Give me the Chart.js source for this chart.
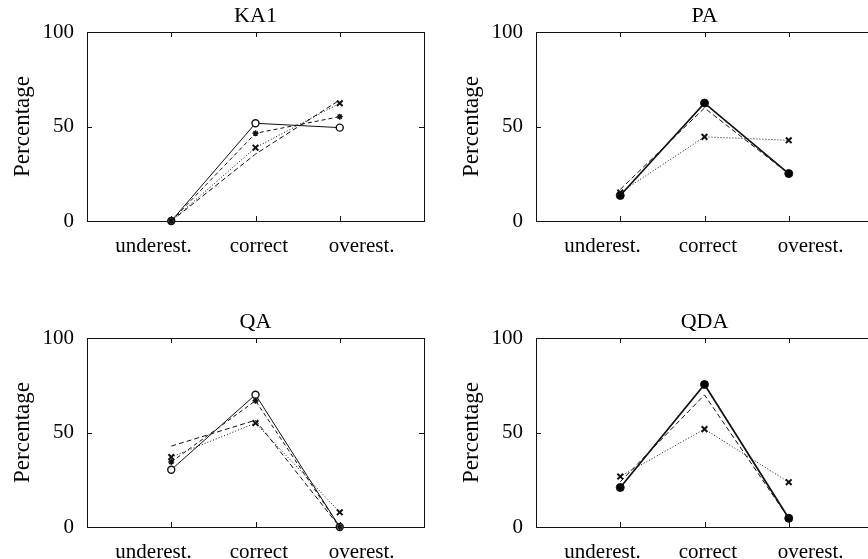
<!DOCTYPE html>
<html>
<head>
<meta charset="utf-8">
<script src="https://cdn.jsdelivr.net/npm/chart.js@4"></script>
<style>
  html, body { margin: 0; padding: 0; background: #fff; overflow: hidden; width: 868px; height: 559px; }
  canvas { position: absolute; }
</style>
</head>
<body>
<canvas id="ka1" width="434" height="280" style="left:0;top:0"></canvas>
<canvas id="pa" width="434" height="280" style="left:449px;top:0"></canvas>
<canvas id="qa" width="434" height="280" style="left:0;top:306px"></canvas>
<canvas id="qda" width="434" height="280" style="left:449px;top:306px"></canvas>
<script>
const categories = ['underest.', 'correct', 'overest.'];
const yTicks = [0, 50, 100];
// where the x labels sit on the 0..4 axis (categories are at 1, 2, 3)
const labelPos = [0.79, 2.04, 3.26];

const ka1Circle = [0, 51.7, 49.4];
const ka1Star = [0, 46.4, 55.2];
const ka1Cross = [0, 38.8, 62.3];
const ka1Dash = [0, 35.4, 64];

const paSolid = [13.5, 62.4, 25.1];
const paDash = [16.7, 59.8, 25];
const paCross = [15, 44.5, 42.7];

const qaCircle = [30.3, 70, 0];
const qaStar = [34.4, 66.8, 0];
const qaCross = [37, 55, 7.8];
const qaDash = [42.8, 56.5, 0];

const qdaSolid = [20.9, 75.4, 4.6];
const qdaDash = [23.9, 69.9, 4.6];
const qdaCross = [26.7, 51.8, 23.7];

const serif = '"Liberation Serif", "DejaVu Serif", serif';

const styles = {
  circle: { borderWidth: 1, borderDash: [], pointStyle: 'circle', pointRadius: 3.5, pointBorderWidth: 1.4, pointBackgroundColor: '#fff' },
  star: { borderWidth: 1, borderDash: [4, 3], pointStyle: 'star', pointRadius: 3, pointBorderWidth: 1.4, pointBackgroundColor: '#000' },
  cross: { borderWidth: 1, borderDash: [1, 2], pointStyle: 'crossRot', pointRadius: 4, pointBorderWidth: 2, pointBackgroundColor: '#000' },
  dash: { borderWidth: 1, borderDash: [5, 3], pointRadius: 0 },
  dot: { borderWidth: 1.7, borderDash: [], pointStyle: 'circle', pointRadius: 4, pointBorderWidth: 1, pointBackgroundColor: '#000' }
};

const frame = {
  id: 'frame',
  beforeDatasetsDraw(chart) {
    const { ctx, chartArea: a, scales: { x, y } } = chart;
    ctx.save();
    ctx.strokeStyle = '#111';
    ctx.lineWidth = 1;
    ctx.strokeRect(a.left + 0.5, a.top + 0.5, a.right - a.left, a.bottom - a.top);
    ctx.beginPath();
    categories.forEach((c, i) => {
      const px = Math.round(x.getPixelForValue(i + 1)) + 0.5;
      ctx.moveTo(px, a.top); ctx.lineTo(px, a.top + 5);
      ctx.moveTo(px, a.bottom); ctx.lineTo(px, a.bottom - 5);
    });
    yTicks.forEach(v => {
      const py = Math.round(y.getPixelForValue(v)) + 0.5;
      ctx.moveTo(a.left, py); ctx.lineTo(a.left + 5, py);
      ctx.moveTo(a.right, py); ctx.lineTo(a.right - 5, py);
    });
    ctx.stroke();
    ctx.restore();
  }
};

function makeChart(id, title, series) {
  new Chart(document.getElementById(id), {
    type: 'line',
    data: {
      datasets: series.map(([vals, kind]) => Object.assign({
        data: vals.map((v, i) => ({ x: i + 1, y: v })),
        borderColor: '#111',
        pointBorderColor: '#111',
        tension: 0,
        clip: false
      }, styles[kind]))
    },
    options: {
      responsive: false,
      animation: false,
      devicePixelRatio: 1,
      layout: { padding: { right: 10 } },
      plugins: {
        legend: { display: false },
        tooltip: { enabled: false },
        title: {
          display: true, text: title, color: '#000', fullSize: false,
          font: { family: serif, size: 22, weight: 'normal', lineHeight: 1.2 },
          padding: { top: 3, bottom: 2.6 }
        }
      },
      scales: {
        x: {
          type: 'linear', min: 0, max: 4,
          grid: { display: false }, border: { display: false },
          afterBuildTicks: s => { s.ticks = labelPos.map(v => ({ value: v })); },
          afterFit: s => { s.height = 59; },
          ticks: {
            autoSkip: false, maxRotation: 0, padding: 5, color: '#000',
            font: { family: serif, size: 21 },
            callback: (v, i) => categories[i]
          }
        },
        y: {
          min: 0, max: 100,
          grid: { display: false }, border: { display: false },
          afterBuildTicks: s => { s.ticks = yTicks.map(v => ({ value: v })); },
          afterFit: s => { s.width = 87; },
          ticks: { padding: 5, color: '#000', font: { family: serif, size: 21 } },
          title: {
            display: true, text: 'Percentage', color: '#000',
            font: { family: serif, size: 23 }, padding: { top: 9 }
          }
        }
      }
    },
    plugins: [frame]
  });
}

makeChart('ka1', 'KA1', [[ka1Dash, 'dash'], [ka1Cross, 'cross'], [ka1Star, 'star'], [ka1Circle, 'circle']]);
makeChart('pa', 'PA', [[paCross, 'cross'], [paDash, 'dash'], [paSolid, 'dot']]);
makeChart('qa', 'QA', [[qaDash, 'dash'], [qaCross, 'cross'], [qaStar, 'star'], [qaCircle, 'circle']]);
makeChart('qda', 'QDA', [[qdaCross, 'cross'], [qdaDash, 'dash'], [qdaSolid, 'dot']]);
</script>
</body>
</html>
